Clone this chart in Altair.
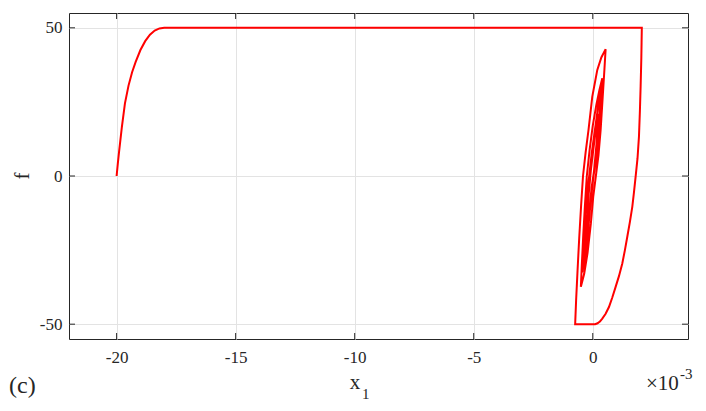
import altair as alt
import pandas as pd

# ---- data (x in units of 1e-3) ----
rise_x = [-20.00, -19.95, -19.90, -19.78, -19.65, -19.50, -19.35, -19.20, -19.00, -18.80, -18.60, -18.40, -18.20, -18.00]
rise_f = [0.0, 4.2, 8.0, 16.5, 24.5, 30.5, 35.0, 38.5, 42.5, 45.5, 47.7, 49.1, 49.8, 50.0]

top_x = [2.06]
top_f = [50.0]

fall_x = [2.05, 2.04, 2.025, 2.01, 1.98, 1.94, 1.88, 1.80, 1.73, 1.66, 1.56, 1.45, 1.35,
          1.24, 1.10, 0.96, 0.82, 0.68, 0.54, 0.40, 0.30, 0.20, 0.10]
fall_f = [45.0, 40.0, 35.0, 30.2, 22.0, 13.3, 6.0, -0.2, -5.5, -10.4, -15.5, -20.5, -25.0,
          -29.5, -33.8, -37.4, -41.0, -44.2, -46.5, -48.1, -49.1, -49.7, -50.0]

bottom_x = [-0.74]
bottom_f = [-50.0]

loop1_x = [-0.70, -0.64, -0.57, -0.49, -0.41, -0.30, -0.18, -0.02, 0.19, 0.36, 0.54,
           0.49, 0.42, 0.33, 0.24, 0.13, 0.02, -0.08, -0.22, -0.36, -0.50]
loop1_f = [-42.0, -32.0, -21.0, -10.0, 0.0, 8.0, 15.5, 26.8, 35.8, 40.0, 42.8,
           36.0, 27.0, 15.5, 7.0, 0.0, -7.0, -16.0, -26.0, -33.0, -37.4]

loop2_x = [-0.46, -0.40, -0.33, -0.25, -0.13, 0.00, 0.15, 0.28, 0.40,
           0.36, 0.28, 0.17, 0.03, -0.08, -0.18, -0.28, -0.38, -0.44]
loop2_f = [-30.0, -20.0, -10.0, 0.0, 9.0, 17.0, 24.0, 29.0, 33.0,
           25.0, 15.0, 7.0, 0.0, -8.0, -17.0, -25.0, -30.0, -32.5]

loop3_x = [-0.39, -0.32, -0.23, -0.15, -0.04, 0.08, 0.20, 0.33,
           0.27, 0.16, 0.04, -0.05, -0.15, -0.25, -0.33]
loop3_f = [-24.0, -13.0, -5.0, 0.0, 8.0, 15.0, 22.0, 30.2,
           18.0, 8.0, 1.0, -4.0, -12.0, -21.0, -27.0]

loop4_x = [-0.27, -0.18, -0.08, 0.04, 0.15, 0.22, 0.17, 0.07, -0.05, -0.15, -0.22]
loop4_f = [-17.0, -7.0, 2.0, 10.0, 17.0, 21.0, 12.0, 3.0, -6.0, -14.0, -20.0]

x_ticks = [-20, -15, -10, -5, 0]
f_ticks = [-50, 0, 50]

xs = rise_x + top_x + fall_x + bottom_x + loop1_x + loop2_x + loop3_x + loop4_x
fs = rise_f + top_f + fall_f + bottom_f + loop1_f + loop2_f + loop3_f + loop4_f
df = pd.DataFrame({"x": xs, "f": fs, "i": list(range(len(xs)))})
dfx = pd.DataFrame({"t": x_ticks})
dfy = pd.DataFrame({"t": f_ticks})

W, H = 619, 326
FONT = "Liberation Serif"
DARK = "#262626"

xscale = alt.Scale(domain=[-22, 4], nice=False, zero=False)
yscale = alt.Scale(domain=[-55, 55], nice=False, zero=False)

xaxis = alt.Axis(values=x_ticks, grid=True, gridColor="#e3e3e3", ticks=False, domain=False,
                 labelFont=FONT, labelFontSize=17, labelColor=DARK, labelPadding=10,
                 labelExpr="'' + datum.value", title=None)
yaxis = alt.Axis(values=f_ticks, grid=True, gridColor="#e3e3e3", ticks=False, domain=False,
                 labelFont=FONT, labelFontSize=17, labelColor=DARK, labelPadding=7,
                 labelExpr="'' + datum.value", title=None)

line = alt.Chart(df).mark_line(color="#ff0000", strokeWidth=2, strokeJoin="miter").encode(
    x=alt.X("x:Q", scale=xscale, axis=xaxis),
    y=alt.Y("f:Q", scale=yscale, axis=yaxis),
    order="i:Q",
)

tick_style = dict(color=DARK, strokeWidth=1)
bt = alt.Chart(dfx).mark_rule(**tick_style).encode(
    x=alt.X("t:Q", scale=xscale), y=alt.value(H), y2=alt.value(H - 6))
tt = alt.Chart(dfx).mark_rule(**tick_style).encode(
    x=alt.X("t:Q", scale=xscale), y=alt.value(0), y2=alt.value(6))
lt = alt.Chart(dfy).mark_rule(**tick_style).encode(
    y=alt.Y("t:Q", scale=yscale), x=alt.value(0), x2=alt.value(6))
rt = alt.Chart(dfy).mark_rule(**tick_style).encode(
    y=alt.Y("t:Q", scale=yscale), x=alt.value(W), x2=alt.value(W - 6))


def txt(s, x, y, size, align="left", angle=0):
    return alt.Chart(pd.DataFrame({"s": [s]})).mark_text(
        font=FONT, fontSize=size, color=DARK, align=align, baseline="alphabetic", angle=angle
    ).encode(text="s:N", x=alt.value(x), y=alt.value(y))


texts = [
    txt("(c)", -60, 380, 24),
    txt("x", 286, 376, 21, align="center"),
    txt("1", 293, 386, 15),
    txt("×10", 577, 377, 21),
    txt("-3", 611, 366, 15),
    txt("f", -40, 163, 21, align="center", angle=270),
]

chart = alt.layer(line, bt, tt, lt, rt, *texts).properties(
    width=W, height=H,
    autosize=alt.AutoSizeParams(type="none"),
    padding={"left": 61, "top": 5, "right": 10, "bottom": 64},
).configure_view(stroke=DARK, strokeWidth=1)

chart.save("out.html", embed_options={"renderer": "svg", "actions": False})
